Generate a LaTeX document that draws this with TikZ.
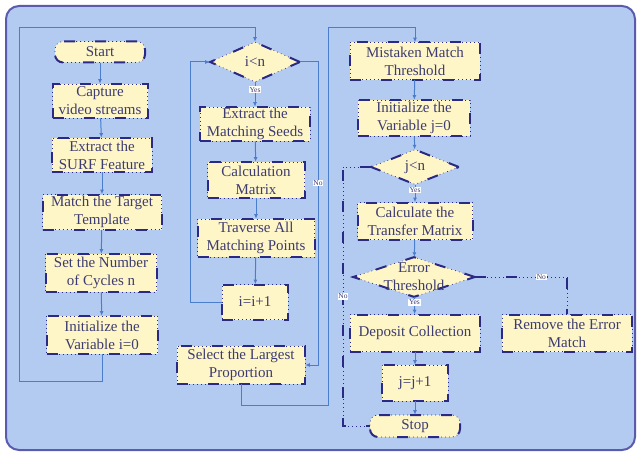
\documentclass[tikz,border=0pt]{standalone}
\usepackage{fontspec}
\setmainfont{Liberation Serif}
\usetikzlibrary{arrows.meta}
\usetikzlibrary{shapes.geometric}
\definecolor{panel}{HTML}{B4CBF1}
\definecolor{panelrim}{HTML}{5B5BAE}
\definecolor{boxfill}{HTML}{FFF6C8}
\definecolor{boxrim}{HTML}{2A2A86}
\definecolor{flow}{HTML}{4A7DCB}
\definecolor{ink}{HTML}{3C3C70}
\newcommand*{\loopL}{19}
\newcommand*{\loopM}{318}
\newcommand*{\loopR}{328}
\newcommand*{\loopJ}{343}
\newcommand*{\topY}{28}

\begin{document}
\begin{tikzpicture}[x=1pt, y=-1pt, font=\fontsize{15}{18}\selectfont,
    rim/.style={draw=boxrim, line width=0.7pt, dash pattern=on 0.8pt off 3.2pt,
        postaction={draw=boxrim, line width=2pt, dash pattern=on 11pt off 20pt}},
    proc/.style={rim, rectangle, fill=boxfill, text=ink, align=center, inner sep=0pt},
    term/.style={proc, rounded corners=8pt},
    decide/.style={rim, diamond, fill=boxfill, inner sep=0pt},
    inside/.style={text=ink, align=center, inner sep=0pt},
    go/.style={draw=flow, line width=1pt, -{Latex[length=4.5pt,width=4pt]}},
    back/.style={rim, line width=0.7pt},
    tag/.style={fill=white, text=ink, inner sep=0.8pt, font=\fontsize{7.5}{8}\selectfont}]
    \useasboundingbox (0,0) rectangle (637,452);
    \draw [fill=panel, draw=panelrim, line width=2pt, rounded corners=13pt] (6,6) rectangle (635,450);

    \node [term, minimum width=90, minimum height=21] (start)    at (100,52)  {Start};
    \node [proc, minimum width=95, minimum height=34] (capture)  at (100,101) {Capture\\video streams};
    \node [proc, minimum width=100,minimum height=34] (surf)     at (102,155) {Extract the\\SURF Feature};
    \node [proc, minimum width=119,minimum height=35] (target)   at (102,212) {Match the Target\\Template};
    \node [proc, minimum width=111,minimum height=38] (cycles)   at (101,273) {Set the Number\\of Cycles n};
    \node [proc, minimum width=111,minimum height=38] (initi)    at (102,335) {Initialize the\\Variable i=0};

    \node [decide, minimum width=90, minimum height=40] (iltn)   at (255,62)  {};
    \node [inside] (iltn-t) at (iltn) {i<n};
    \node [proc, minimum width=110,minimum height=34] (seeds)    at (255,124) {Extract the\\Matching Seeds};
    \node [proc, minimum width=97, minimum height=36] (calc)     at (256,180) {Calculation\\Matrix};
    \node [proc, minimum width=117,minimum height=38] (traverse) at (256,238) {Traverse All\\Matching Points};
    \node [proc, minimum width=66, minimum height=35] (inci)     at (255,302) {i=i+1};
    \node [proc, minimum width=128,minimum height=38] (select)   at (241,365) {Select the Largest\\Proportion};

    \node [proc, minimum width=130,minimum height=37] (mistaken) at (415,61)  {Mistaken Match\\Threshold};
    \node [proc, minimum width=112,minimum height=36] (initj)    at (414,118) {Initialize the\\Variable j=0};
    \node [decide, minimum width=88, minimum height=35] (jltn)   at (415,167) {};
    \node [inside] (jltn-t) at (jltn) {j<n};
    \node [proc, minimum width=115,minimum height=37] (transfer) at (415,221) {Calculate the\\Transfer Matrix};
    \node [decide, minimum width=122,minimum height=40] (errthr) at (414,277) {};
    \node [inside] (errthr-t) at (errthr) {Error\\Threshold};
    \node [proc, minimum width=130,minimum height=37] (deposit)  at (415,333) {Deposit Collection};
    \node [proc, minimum width=130,minimum height=37] (remove)   at (567,333) {Remove the Error\\Match};
    \node [proc, minimum width=66, minimum height=36] (incj)     at (415,383) {j=j+1};
    \node [term, minimum width=90, minimum height=22] (stop)     at (415,426) {Stop};

    \draw [go] (start) -- (capture);
    \draw [go] (capture) -- (surf);
    \draw [go] (surf) -- (target);
    \draw [go] (target) -- (cycles);
    \draw [go] (cycles) -- (initi);
    \draw [go] (initi.south) -- (102,381) -- (\loopL,381) -- (\loopL,\topY) -- (iltn.north |- 0,\topY) -- (iltn.north);

    \draw [go] (iltn) -- node [tag, pos=0.3] {Yes} (seeds);
    \draw [go] (seeds) -- (calc);
    \draw [go] (calc) -- (traverse);
    \draw [go] (traverse) -- (inci);
    \draw [go] (inci.west) -- (190,302) -- (190,62) -- (iltn.west);
    \draw [go] (iltn.east) -- (\loopM,62) -- node [tag, pos=0.4] {No} (\loopM,365) -- (select.east);
    \draw [go] (select.south) -- (241,405) -- (\loopR,405) -- (\loopR,\topY) -- (mistaken.north |- 0,\topY) -- (mistaken.north);

    \draw [go] (mistaken) -- (initj);
    \draw [go] (initj) -- (jltn);
    \draw [go] (jltn) -- node [tag, pos=0.3] {Yes} (transfer);
    \draw [go] (transfer) -- (errthr);
    \draw [go] (errthr) -- node [tag, pos=0.3] {Yes} (deposit);
    \draw [back] (errthr.east) -- node [tag, pos=0.72] {No} (remove.north |- errthr.east) -- (remove.north);
    \draw [go] (deposit) -- (incj);
    \draw [go] (incj) -- (stop);
    \draw [back] (jltn.west) -- (\loopJ,167) -- node [tag, pos=0.5] {No} (\loopJ,426) -- (stop.west);
\end{tikzpicture}
\end{document}
